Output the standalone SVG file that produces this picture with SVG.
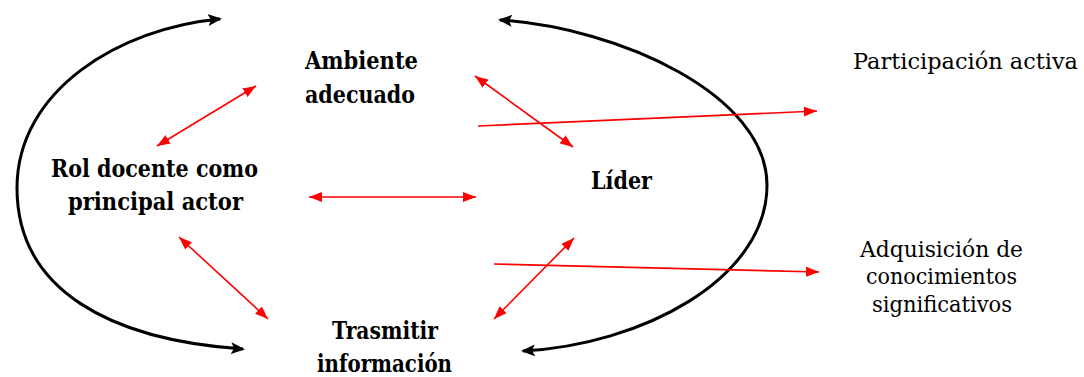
<svg xmlns="http://www.w3.org/2000/svg" width="1084" height="377" viewBox="0 0 1084 377">
  <style>
    text { font-family: 'DejaVu Serif', 'Liberation Serif', serif; fill: #000; }
    .bold { font-weight: bold; font-size: 24px; text-anchor: middle; }
    .reg { font-size: 23px; }
    .mid { text-anchor: middle; }
    .black { fill: none; stroke: #000; stroke-width: 3; marker-start: url(#bh); marker-end: url(#bh); }
    .red2 { fill: none; stroke: #ff0000; stroke-width: 1.6; marker-start: url(#rh); marker-end: url(#rh); }
    .red1 { fill: none; stroke: #ff0000; stroke-width: 1.6; marker-end: url(#rh); }
  </style>
  <defs>
    <marker id="bh" viewBox="0 0 14 12" refX="12" refY="6" markerWidth="14" markerHeight="12" markerUnits="userSpaceOnUse" orient="auto-start-reverse">
      <path d="M0,0 L14,6 L0,12 L3,6 z" fill="#000"/>
    </marker>
    <marker id="rh" viewBox="0 0 13 10" refX="13" refY="5" markerWidth="13" markerHeight="10" markerUnits="userSpaceOnUse" orient="auto-start-reverse">
      <path d="M0,0 L13,5 L0,10 z" fill="#ff0000"/>
    </marker>
  </defs>

  <g id="connectors">
    <path class="black" d="M220,19 C120,28 17,90 17,188 C17,290 110,340 243,349"/>
    <path class="black" d="M500,20 C620,28 767,95 767,185 C767,280 640,345 523,351"/>
    <line class="red2" x1="157" y1="146" x2="256" y2="86"/>
    <line class="red2" x1="475" y1="76" x2="573" y2="147"/>
    <line class="red2" x1="309" y1="197" x2="476" y2="197"/>
    <line class="red2" x1="179" y1="237" x2="268" y2="319"/>
    <line class="red2" x1="574" y1="238" x2="494" y2="319"/>
    <line class="red1" x1="478" y1="126" x2="817" y2="111"/>
    <line class="red1" x1="494" y1="264" x2="819" y2="272"/>
  </g>

  <g id="ambiente">
    <text class="bold" x="361.5" y="69" textLength="113" lengthAdjust="spacingAndGlyphs">Ambiente</text>
    <text class="bold" x="360" y="103" textLength="110" lengthAdjust="spacingAndGlyphs">adecuado</text>
  </g>
  <g id="rol">
    <text class="bold" x="154.5" y="177" textLength="207" lengthAdjust="spacingAndGlyphs">Rol docente como</text>
    <text class="bold" x="155.5" y="210" textLength="175" lengthAdjust="spacingAndGlyphs">principal actor</text>
  </g>
  <g id="lider">
    <text class="bold" x="621.5" y="189" textLength="61" lengthAdjust="spacingAndGlyphs">Líder</text>
  </g>
  <g id="trasmitir">
    <text class="bold" x="385" y="339" textLength="106" lengthAdjust="spacingAndGlyphs">Trasmitir</text>
    <text class="bold" x="384.5" y="372" textLength="135" lengthAdjust="spacingAndGlyphs">información</text>
  </g>
  <g id="participacion">
    <text class="reg" x="853" y="69" textLength="225" lengthAdjust="spacingAndGlyphs">Participación activa</text>
  </g>
  <g id="adquisicion">
    <text class="reg mid" x="941.5" y="257" textLength="163" lengthAdjust="spacingAndGlyphs">Adquisición de</text>
    <text class="reg mid" x="941.5" y="284" textLength="151" lengthAdjust="spacingAndGlyphs">conocimientos</text>
    <text class="reg mid" x="942" y="312" textLength="140" lengthAdjust="spacingAndGlyphs">significativos</text>
  </g>
</svg>
